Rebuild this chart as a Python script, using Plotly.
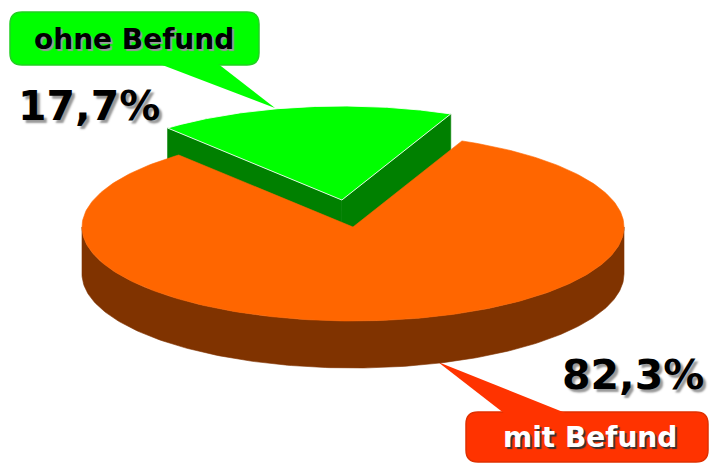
import numpy as np
import plotly.graph_objects as go

# ---- data ----
labels = ["ohne Befund", "mit Befund"]
values = [17.7, 82.3]
pct_labels = ["17,7%", "82,3%"]
top_colors = ["#00FF00", "#FF6600"]
side_colors = ["#008000", "#803300"]
bubble_colors = ["#00FF00", "#FF3300"]
bubble_edges = ["#22D022", "#E03000"]
label_text_colors = ["black", "white"]
explode = [0.29, 0.0]

# ---- geometry (pixel space) ----
W, H = 712, 465
CX, CY, A, B, DEPTH = 353, 227, 271, 94, 47
START = 66.3  # degrees, counter-clockwise

total = sum(values)
spans = []
t = START
for v in values:
    s = v / total * 360.0
    spans.append((t, t + s))
    t += s


def pt(theta, r, off, z=0.0):
    th = np.radians(theta)
    return CX + A * r * np.cos(th) + off[0], CY - B * r * np.sin(th) + off[1] + z


fig = go.Figure()


def poly(xs, ys, color, lw=0.6, lcolor=None):
    fig.add_trace(go.Scatter(
        x=list(xs) + [xs[0]], y=list(ys) + [ys[0]], mode="lines", fill="toself",
        fillcolor=color, line=dict(color=lcolor or color, width=lw),
        hoverinfo="skip", showlegend=False))


# draw back (exploded) slice first
order = sorted(range(len(values)), key=lambda i: -explode[i])
for i in order:
    t0, t1 = spans[i]
    mid = np.radians((t0 + t1) / 2)
    off = (A * explode[i] * np.cos(mid), -B * explode[i] * np.sin(mid))
    # radial faces
    for tb, normal in ((t0, t0 - 90), (t1, t1 + 90)):
        if np.sin(np.radians(normal)) < 0:
            c_top = pt(0, 0, off)
            e_top = pt(tb, 1, off)
            e_bot = pt(tb, 1, off, DEPTH)
            c_bot = pt(0, 0, off, DEPTH)
            poly([c_top[0], e_top[0], e_bot[0], c_bot[0]],
                 [c_top[1], e_top[1], e_bot[1], c_bot[1]], side_colors[i])
    # outer side (front-facing part)
    for k0 in (180, 540):
        a0, a1 = max(t0, k0), min(t1, k0 + 180)
        if a1 > a0:
            th = np.linspace(a0, a1, 200)
            xt, yt = pt(th, 1, off)
            xb, yb = pt(th[::-1], 1, off, DEPTH)
            poly(np.concatenate([xt, xb]), np.concatenate([yt, yb]), side_colors[i])
    # top face
    th = np.linspace(t0, t1, 300)
    xa, ya = pt(th, 1, off)
    c = pt(0, 0, off)
    if explode[i] > 0:
        poly(np.concatenate([[c[0]], xa]), np.concatenate([[c[1]], ya]), top_colors[i],
             lw=1, lcolor="rgba(255,255,255,0.85)")
    else:
        poly(np.concatenate([[c[0]], xa]), np.concatenate([[c[1]], ya]), top_colors[i])


# ---- callout bubbles ----
def rrect(x0, y0, x1, y1, r):
    return (f"M{x0+r},{y0} L{x1-r},{y0} Q{x1},{y0} {x1},{y0+r} L{x1},{y1-r} "
            f"Q{x1},{y1} {x1-r},{y1} L{x0+r},{y1} Q{x0},{y1} {x0},{y1-r} "
            f"L{x0},{y0+r} Q{x0},{y0} {x0+r},{y0} Z")


bubbles = [
    dict(box=(10, 12, 259, 65), tail=[(157, 63), (217, 63), (275, 108)], text_xy=(134, 39),
         pct_xy=(89, 106)),
    dict(box=(466, 412, 708, 462), tail=[(505, 414), (568, 414), (438, 362)], text_xy=(590, 437),
         pct_xy=(633, 375)),
]

for i, b in enumerate(bubbles):
    x0, y0, x1, y1 = b["box"]
    fig.add_shape(type="path", path=rrect(x0, y0, x1, y1, 12), fillcolor=bubble_colors[i],
                  line=dict(width=1.5, color=bubble_edges[i]), layer="below")
    (ax, ay), (bx, by), (tx, ty) = b["tail"]
    fig.add_shape(type="path", path=f"M{ax},{ay} L{bx},{by} L{tx},{ty} Z",
                  fillcolor=bubble_colors[i], line=dict(width=0), layer="below")
    shadow = "2px 2px 1px #999999" if label_text_colors[i] == "black" else "2px 2px 1px #333333"
    fig.add_annotation(x=b["text_xy"][0], y=b["text_xy"][1], text=labels[i], showarrow=False,
                       xanchor="center", yanchor="middle",
                       font=dict(family="DejaVu Sans", size=28, weight="bold",
                                 color=label_text_colors[i], shadow=shadow))
    fig.add_annotation(x=b["pct_xy"][0], y=b["pct_xy"][1], text=pct_labels[i], showarrow=False,
                       xanchor="center", yanchor="middle",
                       font=dict(family="DejaVu Sans", size=41, weight="bold", color="black",
                                 shadow="3px 3px 2px #999999"))

fig.update_layout(
    width=W, height=H, margin=dict(l=0, r=0, t=0, b=0),
    paper_bgcolor="white", plot_bgcolor="white",
    xaxis=dict(range=[0, W], visible=False, fixedrange=True),
    yaxis=dict(range=[H, 0], visible=False, fixedrange=True),
    showlegend=False,
)
fig.write_html("out.html", config={"displayModeBar": False},
               post_script="document.body.style.margin='0';document.body.style.overflow='hidden';")
